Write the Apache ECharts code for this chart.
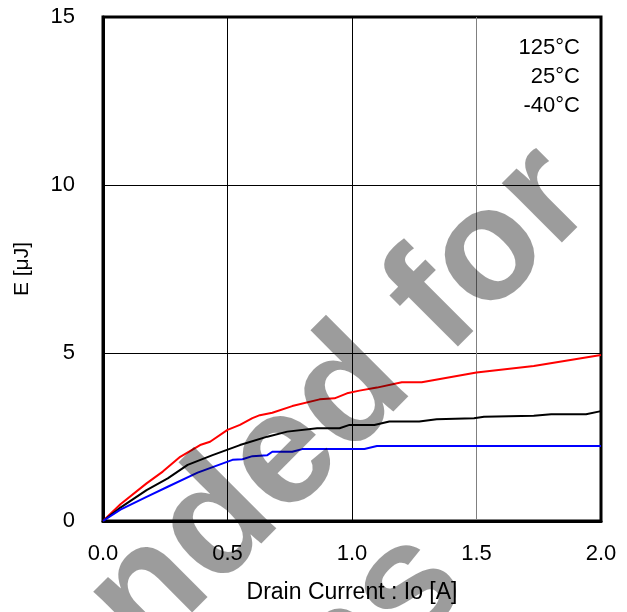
<!DOCTYPE html>
<html>
<head>
<meta charset="utf-8">
<script src="https://cdn.jsdelivr.net/npm/echarts@6/dist/echarts.min.js"></script>
<style>
html,body{margin:0;padding:0;background:#fff;}
#chart{width:627px;height:612px;}
</style>
</head>
<body>
<div id="chart"></div>
<script>
// ---- data ----
var seriesNames = ['125°C', '25°C', '-40°C'];
var xTicks = [0, 0.5, 1.0, 1.5, 2.0];
var yTicks = [0, 5, 10, 15];

var currentRed = [0, 0.07, 0.175, 0.24, 0.31, 0.39, 0.43, 0.5, 0.55, 0.6, 0.63, 0.68, 0.76, 0.87, 0.93, 0.98, 1.03, 1.1, 1.2, 1.28, 1.5, 1.73, 2.0];
var energyRed  = [0, 0.5, 1.12, 1.47, 1.91, 2.26, 2.36, 2.71, 2.86, 3.06, 3.15, 3.22, 3.42, 3.62, 3.65, 3.8, 3.88, 3.97, 4.13, 4.13, 4.42, 4.61, 4.94];

var currentBlack = [0, 0.07, 0.175, 0.26, 0.34, 0.44, 0.55, 0.66, 0.74, 0.86, 0.95, 0.99, 1.09, 1.15, 1.27, 1.34, 1.49, 1.53, 1.73, 1.8, 1.94, 2.0];
var energyBlack  = [0, 0.4, 0.92, 1.27, 1.67, 1.96, 2.26, 2.51, 2.66, 2.76, 2.76, 2.86, 2.86, 2.96, 2.96, 3.03, 3.06, 3.1, 3.13, 3.18, 3.18, 3.27];

var currentBlue = [0, 0.07, 0.175, 0.26, 0.38, 0.52, 0.56, 0.6, 0.66, 0.68, 0.76, 0.8, 1.05, 1.1, 2.0];
var energyBlue  = [0, 0.34, 0.72, 1.02, 1.44, 1.82, 1.84, 1.93, 1.96, 2.06, 2.06, 2.14, 2.14, 2.23, 2.23];

var watermarkLines = ['Not Recommended for', 'New Designs'];

function pairs(xs, ys) { return xs.map(function (x, i) { return [x, ys[i]]; }); }

var FONT = '"Liberation Sans", Arial, sans-serif';
var chart = echarts.init(document.getElementById('chart'), null, {renderer: 'canvas'});

// watermark geometry (45° rotated text)
var up = 26 / Math.SQRT2;
function wmPos(sum, t) {
  var d = t * Math.SQRT2;
  return [(sum + d) / 2 - up, (sum - d) / 2 - up];
}
var p1 = wmPos(779, -581);
var p2 = wmPos(1034, -581);

chart.setOption({
  animation: false,
  backgroundColor: '#fff',
  grid: {left: 103, right: 26, top: 17, bottom: 91, show: true, borderColor: '#000', borderWidth: 3, backgroundColor: 'transparent'},
  legend: {
    data: seriesNames.map(function (n) { return {name: n, icon: 'none'}; }),
    orient: 'vertical', right: 37, top: 32, align: 'right',
    itemWidth: 0, itemHeight: 22, itemGap: 7,
    textStyle: {color: '#000', fontSize: 22, fontFamily: FONT},
    selectedMode: false
  },
  xAxis: {
    type: 'value', min: 0, max: 2, interval: 0.5,
    name: 'Drain Current : Io [A]', nameLocation: 'middle', nameGap: 60,
    nameTextStyle: {color: '#000', fontSize: 23, fontFamily: FONT},
    axisLine: {show: true, lineStyle: {color: '#000', width: 3}},
    axisTick: {show: false},
    axisLabel: {color: '#000', fontSize: 22, fontFamily: FONT, margin: 22, formatter: function (v) { return v.toFixed(1); }},
    splitLine: {show: true, lineStyle: {color: ['#000', '#000', '#000', '#808080', '#000'], width: 1}}
  },
  yAxis: {
    type: 'value', min: 0, max: 15, interval: 5,
    name: 'E [μJ]', nameLocation: 'middle', nameGap: 70, nameRotate: 90,
    nameTextStyle: {color: '#000', fontSize: 21, fontFamily: FONT},
    axisLine: {show: true, lineStyle: {color: '#000', width: 3}},
    axisTick: {show: false},
    axisLabel: {color: '#000', fontSize: 22, fontFamily: FONT, margin: 28},
    splitLine: {show: true, lineStyle: {color: '#000', width: 1}}
  },
  series: [
    {name: seriesNames[0], type: 'line', data: pairs(currentRed, energyRed), showSymbol: false, lineStyle: {color: '#ff0000', width: 2}, itemStyle: {color: '#ff0000'}},
    {name: seriesNames[1], type: 'line', data: pairs(currentBlack, energyBlack), showSymbol: false, lineStyle: {color: '#000000', width: 2}, itemStyle: {color: '#000000'}},
    {name: seriesNames[2], type: 'line', data: pairs(currentBlue, energyBlue), showSymbol: false, lineStyle: {color: '#0000ff', width: 2}, itemStyle: {color: '#0000ff'}}
  ],
  graphic: [
    {type: 'text', x: p1[0], y: p1[1], rotation: Math.PI / 4, z: 100, silent: true,
     style: {text: watermarkLines[0], font: 'bold 160px ' + FONT, fill: 'rgba(0,0,0,0.39)', align: 'center', verticalAlign: 'middle'}},
    {type: 'text', x: p2[0], y: p2[1], rotation: Math.PI / 4, z: 100, silent: true,
     style: {text: watermarkLines[1], font: 'bold 160px ' + FONT, fill: 'rgba(0,0,0,0.39)', align: 'center', verticalAlign: 'middle'}}
  ]
});
</script>
</body>
</html>
